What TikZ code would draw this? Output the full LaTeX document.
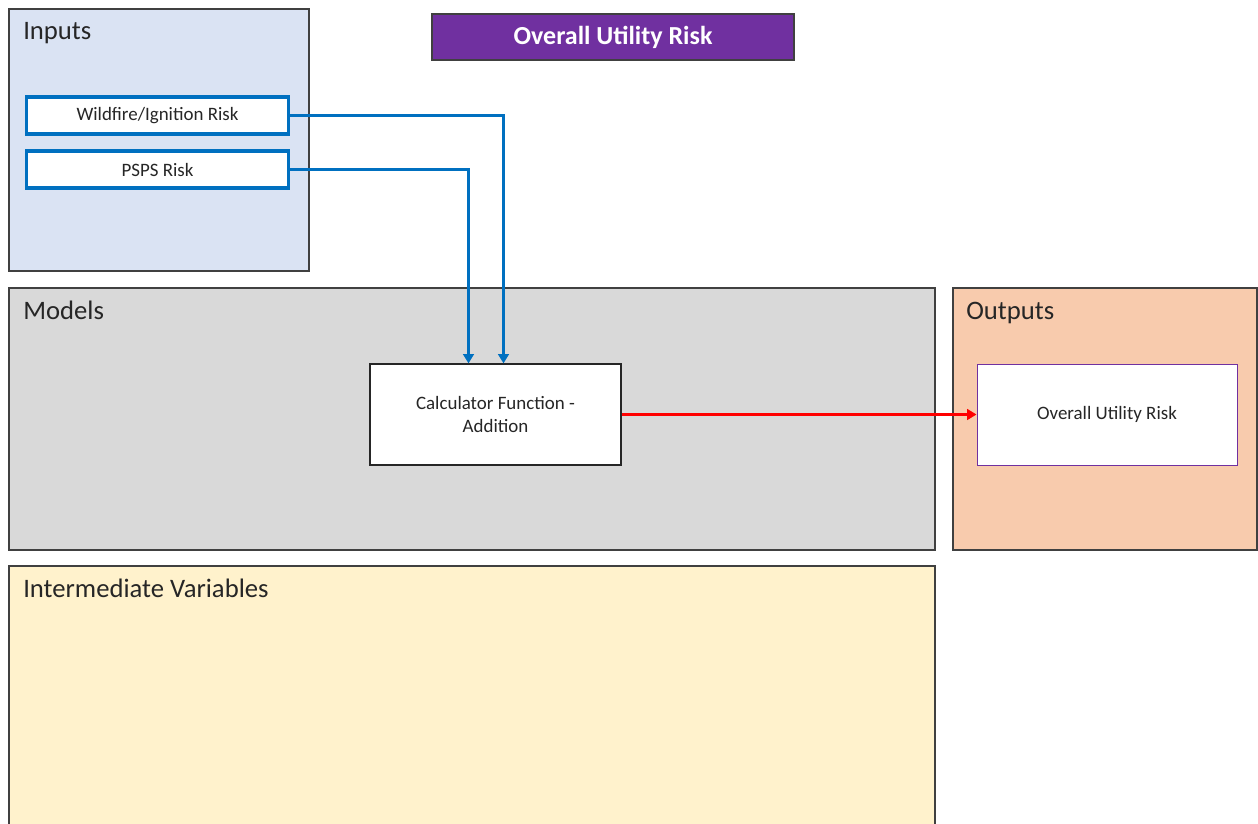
\documentclass[tikz,border=0pt]{standalone}
\usepackage{fontspec}
\setmainfont{Carlito}
\usetikzlibrary{arrows.meta}
\definecolor{inbg}{HTML}{DAE3F3}
\definecolor{modbg}{HTML}{D9D9D9}
\definecolor{outbg}{HTML}{F8CBAD}
\definecolor{intbg}{HTML}{FFF2CC}
\definecolor{pborder}{HTML}{404040}
\definecolor{blueline}{HTML}{0070C0}
\definecolor{purp}{HTML}{7030A0}
\definecolor{txt}{HTML}{262626}
\tikzset{
  paneltitle/.style={anchor=base west, inner sep=0pt, font=\fontsize{20}{24}\selectfont, text=txt},
  inbox/.style={draw=blueline, line width=2.4pt, fill=white, minimum width=196.5pt, minimum height=27.75pt, font=\fontsize{14.2}{17}\selectfont, text=txt, inner sep=0pt},
  procbox/.style={draw=black!85, line width=0.9pt, fill=white, minimum width=188.25pt, minimum height=75.75pt, font=\fontsize{14.2}{17}\selectfont, text=txt, align=center, inner sep=0pt},
  outbox/.style={draw=purp, line width=0.75pt, fill=white, minimum width=195pt, minimum height=75.75pt, font=\fontsize{14.2}{17}\selectfont, text=txt, inner sep=0pt},
  bluearrow/.style={draw=blueline, line width=2.4pt, -{Triangle[width=8pt,length=7pt]}},
  redarrow/.style={draw=red, line width=2.6pt, -{Triangle[width=8pt,length=7pt]}},
}
\begin{document}
\begin{tikzpicture}[x=0.75pt,y=-0.75pt]
\useasboundingbox (0,0) rectangle (1258,824);
\fill[white] (0,0) rectangle (1258,824);
% panels
\draw[pborder, line width=1pt, fill=inbg] (9,9) rectangle (309,271);
\draw[pborder, line width=1pt, fill=modbg] (9,288) rectangle (935,550);
\draw[pborder, line width=1pt, fill=outbg] (953,288) rectangle (1257,550);
\draw[pborder, line width=1pt, fill=intbg] (9,566) rectangle (935,834);
\node[paneltitle] (tin) at (23,39.5) {Inputs};
\node[paneltitle] (tmod) at (23,319) {Models};
\node[paneltitle] (tout) at (966,319) {Outputs};
\node[paneltitle] (tint) at (23,597.5) {Intermediate Variables};
% title
\node[draw=pborder, line width=1pt, fill=purp, minimum width=271.5pt, minimum height=34.5pt, inner sep=0pt, text=white, font=\fontsize{19.5}{23}\selectfont\bfseries] (title) at (613,37) {Overall Utility Risk};
% inputs
\node[inbox] (wf) at (157.5,115.5) {Wildfire/Ignition Risk};
\node[inbox] (psps) at (157.5,169.5) {PSPS Risk};
% models
\node[procbox] (calc) at (495.5,414.5) {Calculator Function -\\Addition};
\node[outbox] (our) at (1107,414.5) {Overall Utility Risk};
% connectors
\draw[bluearrow] (wf.east) -| ([xshift=6pt]calc.north);
\draw[bluearrow] (psps.east) -| ([xshift=-20.25pt]calc.north);
\draw[redarrow] (calc.east) -- (our.west);
\end{tikzpicture}
\end{document}
